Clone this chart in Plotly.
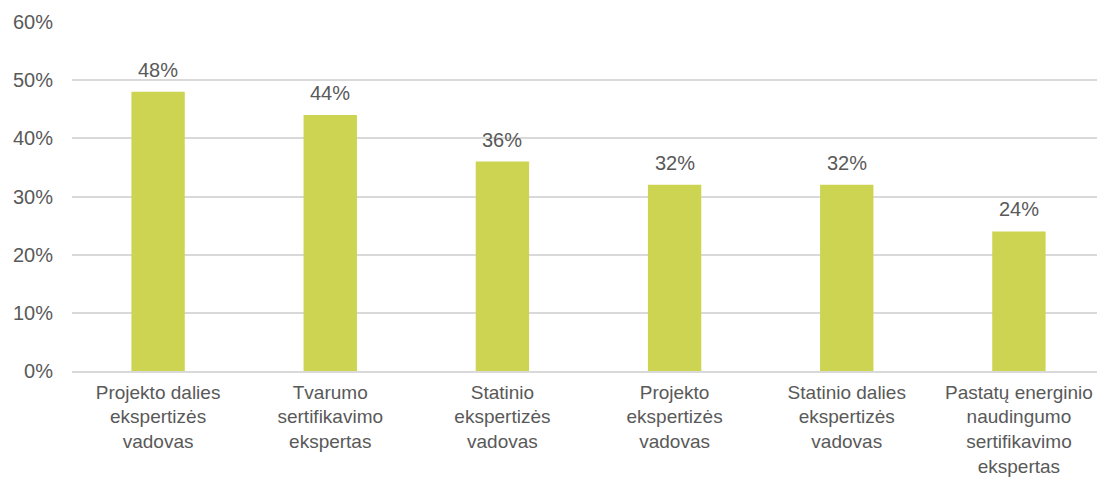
import plotly.graph_objects as go

categories = [
    "Projekto dalies<br>ekspertizės<br>vadovas",
    "Tvarumo<br>sertifikavimo<br>ekspertas",
    "Statinio<br>ekspertizės<br>vadovas",
    "Projekto<br>ekspertizės<br>vadovas",
    "Statinio dalies<br>ekspertizės<br>vadovas",
    "Pastatų energinio<br>naudingumo<br>sertifikavimo<br>ekspertas",
]
values = [0.48, 0.44, 0.36, 0.32, 0.32, 0.24]
y_ticks = [0, 0.1, 0.2, 0.3, 0.4, 0.5, 0.6]

font_color = "#595959"
fam = "Liberation Sans, Arial"
fig = go.Figure(go.Bar(
    x=categories, y=values,
    marker=dict(color="#CDD452", line=dict(width=0)),
    width=0.31,
    cliponaxis=False,
))
for c, v in zip(categories, values):
    fig.add_annotation(
        x=c, y=v, text=f"{v*100:.0f}%", showarrow=False,
        yanchor="bottom", yshift=9,
        font=dict(size=20, color=font_color, family=fam),
    )
fig.update_layout(
    width=1097, height=471,
    margin=dict(l=64, r=0, t=14, b=108),
    plot_bgcolor="white", paper_bgcolor="white",
    font=dict(family=fam, size=20, color=font_color),
    showlegend=False,
)
fig.update_yaxes(
    range=[0, 0.6], tickvals=y_ticks, tickformat=".0%",
    showgrid=True, gridcolor="#D9D9D9", gridwidth=1.5,
    zeroline=False, showline=False, ticks="", ticklabelstandoff=18,
    tickfont=dict(size=20, color=font_color), automargin=False,
)
fig.update_xaxes(
    showline=True, linecolor="#D9D9D9", linewidth=1.5, ticks="",
    tickfont=dict(size=19, color=font_color), tickangle=0, automargin=False,
    ticklabelstandoff=3,
)
fig.write_html("out.html")
